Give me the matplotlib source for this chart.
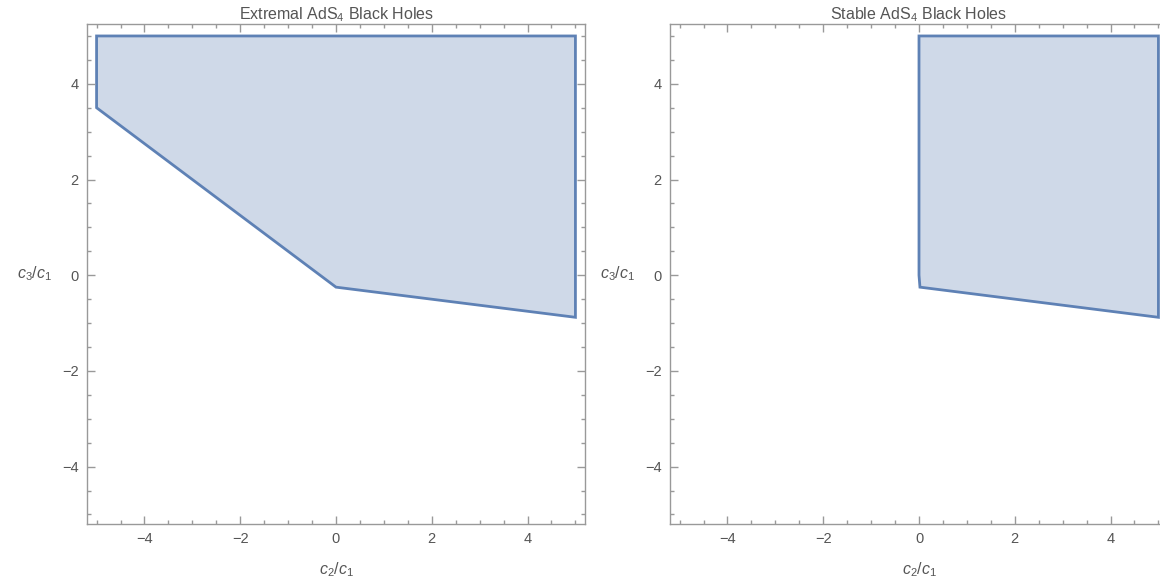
import numpy as np
import matplotlib
matplotlib.use('Agg')
import matplotlib.pyplot as plt
from matplotlib.ticker import MultipleLocator

# region boundaries (c2/c1, c3/c1)
extremal_x = [-5, 5, 5, 0, -5]
extremal_y = [5, 5, -0.88, -0.25, 3.5]
stable_x = [0, 5, 5, 0.02, 0]
stable_y = [5, 5, -0.88, -0.25, 0]

titles = ['Extremal AdS$_4$ Black Holes', 'Stable AdS$_4$ Black Holes']
xlabel = '$c_2/c_1$'
ylabel = '$c_3/c_1$'

plt.rcParams['font.family'] = ['Liberation Sans', 'DejaVu Sans']
plt.rcParams['mathtext.fontset'] = 'custom'
plt.rcParams['mathtext.it'] = 'Liberation Sans:italic'
plt.rcParams['mathtext.rm'] = 'Liberation Sans'

edge = '#5e81b5'
fill = '#cfd9e8'
grey = '#999999'
txt = '#555555'

fig = plt.figure(figsize=(11.6, 5.88), dpi=100)
ax1 = fig.add_axes([87 / 1160, 64 / 588, 498 / 1160, 500 / 588])
ax2 = fig.add_axes([670 / 1160, 64 / 588, 498 / 1160, 500 / 588])

for ax, xs, ys, title in [(ax1, extremal_x, extremal_y, titles[0]),
                          (ax2, stable_x, stable_y, titles[1])]:
    ax.fill(xs, ys, facecolor=fill, edgecolor=edge, lw=2, joinstyle='miter')
    ax.set_xlim(-5.2, 5.2)
    ax.set_ylim(-5.2, 5.25)
    ax.xaxis.set_major_locator(MultipleLocator(2))
    ax.yaxis.set_major_locator(MultipleLocator(2))
    ax.xaxis.set_minor_locator(MultipleLocator(0.5))
    ax.yaxis.set_minor_locator(MultipleLocator(0.5))
    ax.tick_params(which='both', direction='in', top=True, right=True,
                   color=grey, labelcolor=txt, labelsize=10.5, width=1)
    ax.tick_params(which='major', length=6, pad=6)
    ax.tick_params(which='minor', length=3)
    for s in ax.spines.values():
        s.set_color(grey)
        s.set_linewidth(1)
    ax.set_title(title, color=txt, fontsize=11.5, pad=3)
    ax.set_xlabel(xlabel, color=txt, fontsize=11.5, labelpad=10)
    ax.set_ylabel(ylabel, color=txt, fontsize=11.5, rotation=0, labelpad=20, va='center')
    ax.set_axisbelow(False)

fig.savefig('out.png', dpi=100)
